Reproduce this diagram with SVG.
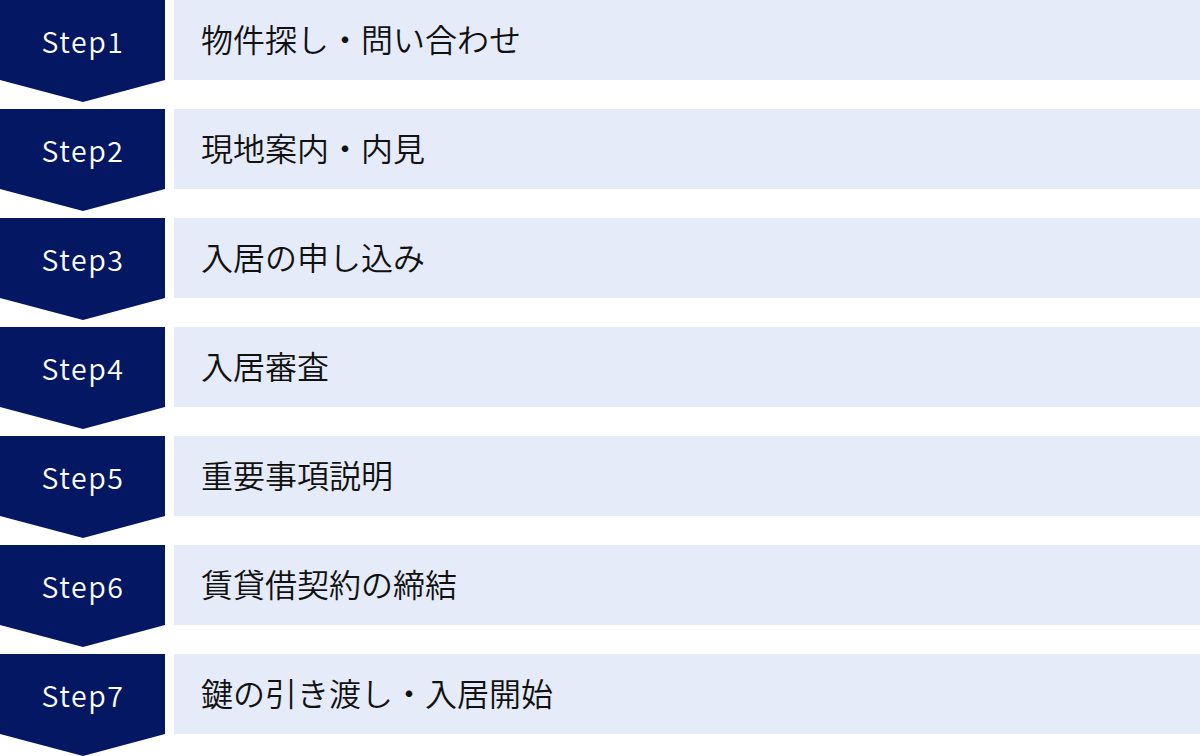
<svg xmlns="http://www.w3.org/2000/svg" width="1200" height="756" viewBox="0 0 1200 756">
<style>
.chev{fill:#041763}
.box{fill:#e5ebf8}
.st{font-family:"Noto Sans CJK JP","Noto Sans",sans-serif;font-size:28.5px;font-weight:350;fill:#ffffff;text-anchor:middle;letter-spacing:1.6px}
.lb{font-family:"Noto Sans CJK JP","Noto Sans",sans-serif;font-size:32px;font-weight:350;fill:#111111}
</style>
<defs>
<polygon id="chv" points="0,0 165,0 165,80 83,102 0,80"/>
</defs>
<g id="connectors"></g>
<g id="step1" transform="translate(0,0)"><use href="#chv" class="chev"/><rect class="box" x="174" y="0" width="1026" height="80"/><text class="st" x="83" y="53">Step1</text><text class="lb" x="201" y="52">物件探し・問い合わせ</text></g>
<g id="step2" transform="translate(0,109)"><use href="#chv" class="chev"/><rect class="box" x="174" y="0" width="1026" height="80"/><text class="st" x="83" y="53">Step2</text><text class="lb" x="201" y="52">現地案内・内見</text></g>
<g id="step3" transform="translate(0,218)"><use href="#chv" class="chev"/><rect class="box" x="174" y="0" width="1026" height="80"/><text class="st" x="83" y="53">Step3</text><text class="lb" x="201" y="52">入居の申し込み</text></g>
<g id="step4" transform="translate(0,327)"><use href="#chv" class="chev"/><rect class="box" x="174" y="0" width="1026" height="80"/><text class="st" x="83" y="53">Step4</text><text class="lb" x="201" y="52">入居審査</text></g>
<g id="step5" transform="translate(0,436)"><use href="#chv" class="chev"/><rect class="box" x="174" y="0" width="1026" height="80"/><text class="st" x="83" y="53">Step5</text><text class="lb" x="201" y="52">重要事項説明</text></g>
<g id="step6" transform="translate(0,545)"><use href="#chv" class="chev"/><rect class="box" x="174" y="0" width="1026" height="80"/><text class="st" x="83" y="53">Step6</text><text class="lb" x="201" y="52">賃貸借契約の締結</text></g>
<g id="step7" transform="translate(0,654)"><use href="#chv" class="chev"/><rect class="box" x="174" y="0" width="1026" height="80"/><text class="st" x="83" y="53">Step7</text><text class="lb" x="201" y="52">鍵の引き渡し・入居開始</text></g>
</svg>
